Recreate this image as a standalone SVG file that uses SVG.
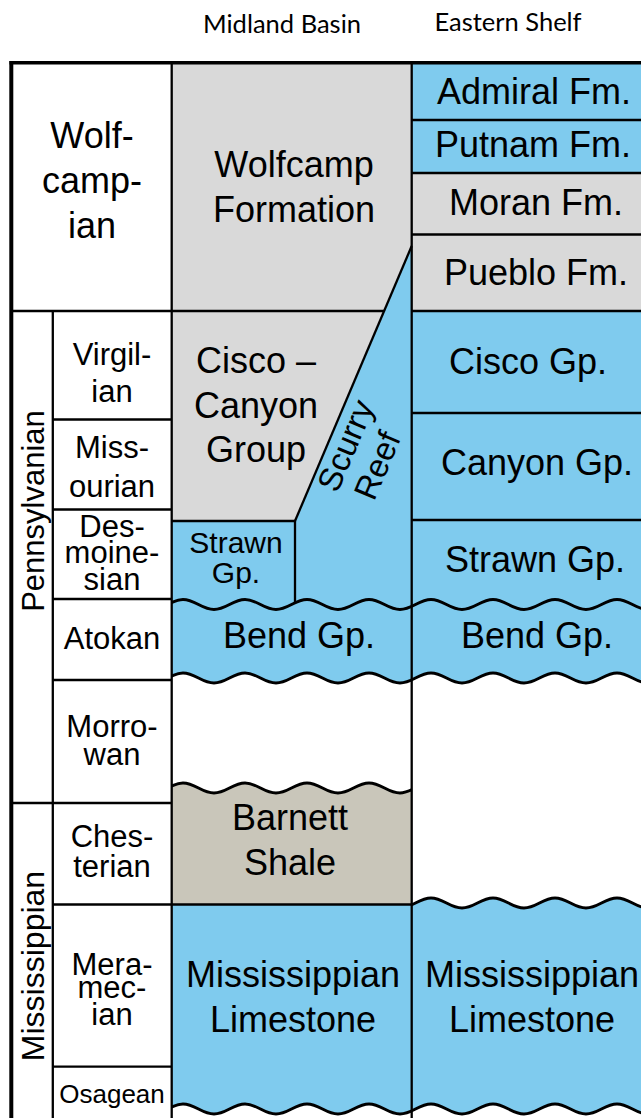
<svg xmlns="http://www.w3.org/2000/svg" xmlns:xlink="http://www.w3.org/1999/xlink" width="641" height="1118" viewBox="0 0 641 1118">
<defs>
<style>
.t{font-family:"Liberation Sans",Arial,sans-serif;font-size:36px;text-anchor:middle;fill:#000}
.s{font-size:31px}
.h{font-family:Lato,"Open Sans",sans-serif;font-size:25.5px;text-anchor:middle;fill:#000}
.blue{fill:#7fcbee}
.gray{fill:#d9d9d9}
.barn{fill:#c9c6ba}
.white{fill:#fff}
.ln{stroke:#000;stroke-width:2.3;fill:none}
.thk{stroke:#000;stroke-width:3.4;fill:none}
.wv{stroke:#000;stroke-width:3;fill:none}
</style>
<path id="wl" d="M121,-5 C133,-5 140,5 152,5 C164,5 171,-5 183,-5 C195,-5 202,5 214,5 C226,5 233,-5 245,-5 C257,-5 264,5 276,5 C288,5 295,-5 307,-5 C319,-5 326,5 338,5 C350,5 357,-5 369,-5 C381,-5 388,5 400,5 C412,5 419,-5 431,-5 C443,-5 450,5 462,5 C474,5 481,-5 493,-5 C505,-5 512,5 524,5 C536,5 543,-5 555,-5 C567,-5 574,5 586,5 C598,5 605,-5 617,-5 C629,-5 636,5 648,5 C660,5 667,-5 679,-5"/>
<path id="wf" d="M121,-5 C133,-5 140,5 152,5 C164,5 171,-5 183,-5 C195,-5 202,5 214,5 C226,5 233,-5 245,-5 C257,-5 264,5 276,5 C288,5 295,-5 307,-5 C319,-5 326,5 338,5 C350,5 357,-5 369,-5 C381,-5 388,5 400,5 C412,5 419,-5 431,-5 C443,-5 450,5 462,5 C474,5 481,-5 493,-5 C505,-5 512,5 524,5 C536,5 543,-5 555,-5 C567,-5 574,5 586,5 C598,5 605,-5 617,-5 C629,-5 636,5 648,5 C660,5 667,-5 679,-5 L679,400 L121,400 Z"/>
<clipPath id="cm"><rect x="172" y="0" width="239.7" height="904.5"/></clipPath>
<clipPath id="ce"><rect x="411.7" y="0" width="230" height="1118"/></clipPath>
<clipPath id="cme"><rect x="172" y="0" width="470" height="1118"/></clipPath>
</defs>
<rect width="641" height="1118" fill="#fff"/>

<g id="headers">
<text class="h" x="282" y="33">Midland Basin</text>
<text class="h" x="508" y="31">Eastern Shelf</text>
</g>

<g id="wolfcampian">
<text class="t" x="92" y="148">Wolf-</text>
<text class="t" x="92" y="193">camp-</text>
<text class="t" x="92" y="238">ian</text>
</g>
<g id="pennsylvanian">
<text class="t" style="font-size:31px" transform="translate(44,511) rotate(-90)" x="0" y="0">Pennsylvanian</text>
</g>
<g id="mississippian">
<text class="t" style="font-size:32px" transform="translate(44,966) rotate(-90)" x="0" y="0">Mississippian</text>
</g>
<g id="virgilian"><text class="t s" x="112" y="365">Virgil-</text><text class="t s" x="112" y="402">ian</text></g>
<g id="missourian"><text class="t s" x="112" y="458">Miss-</text><text class="t s" x="112" y="497">ourian</text></g>
<g id="desmoinesian"><text class="t s" x="112" y="537">Des-</text><text class="t s" x="112" y="563">moine-</text><text class="t s" x="112" y="590">sian</text></g>
<g id="atokan"><text class="t s" x="112" y="649">Atokan</text></g>
<g id="morrowan"><text class="t s" x="112" y="737">Morro-</text><text class="t s" x="112" y="765">wan</text></g>
<g id="chesterian"><text class="t s" x="112" y="847">Ches-</text><text class="t s" x="112" y="877">terian</text></g>
<g id="meramecian"><text class="t s" x="112" y="975">Mera-</text><text class="t s" x="112" y="998">mec-</text><text class="t s" x="112" y="1025">ian</text></g>
<g id="osagean"><text class="t" style="font-size:26px" x="112" y="1103">Osagean</text></g>

<g id="wolfcamp-formation">
<rect class="gray" x="172" y="63" width="239.7" height="458"/>
<text class="t" x="294" y="177">Wolfcamp</text>
<text class="t" x="294" y="222">Formation</text>
</g>
<g id="cisco-canyon-group">
<text class="t" x="256" y="373">Cisco –</text>
<text class="t" x="256" y="418">Canyon</text>
<text class="t" x="256" y="462">Group</text>
</g>
<g id="midland-lower">
<rect class="blue" x="172" y="521" width="239.7" height="597"/>
</g>
<g id="scurry-reef">
<polygon class="blue" points="295,521 411.7,246 411.7,606 295,606"/>
<g transform="translate(356,450) rotate(-67)">
<text class="t" style="font-size:33px" x="0" y="0">Scurry</text>
<text class="t" style="font-size:33px" x="-6" y="37">Reef</text>
</g>
</g>
<g id="strawn-midland">
<text class="t" style="font-size:30px" x="236" y="553">Strawn</text>
<text class="t" style="font-size:30px" x="236" y="583">Gp.</text>
</g>
<g id="bend-midland">
<text class="t" x="299" y="648">Bend Gp.</text>
</g>
<g id="midland-gap-barnett" clip-path="url(#cm)">
<use xlink:href="#wf" y="678" class="white"/>
<use xlink:href="#wf" y="788" class="barn"/>
</g>
<g id="barnett-shale">
<text class="t" x="290" y="830">Barnett</text>
<text class="t" x="290" y="875">Shale</text>
</g>
<g id="miss-limestone-midland">
<text class="t" x="293" y="987">Mississippian</text>
<text class="t" x="293" y="1032">Limestone</text>
</g>

<g id="eastern-base">
<rect class="blue" x="411.7" y="63" width="230" height="1055"/>
</g>
<g id="admiral"><text class="t" x="534" y="104">Admiral Fm.</text></g>
<g id="putnam"><text class="t" x="533" y="157">Putnam Fm.</text></g>
<g id="moran"><rect class="gray" x="411.7" y="173" width="230" height="61.5"/><text class="t" x="536" y="215">Moran Fm.</text></g>
<g id="pueblo"><rect class="gray" x="411.7" y="234.5" width="230" height="76.5"/><text class="t" x="536" y="285">Pueblo Fm.</text></g>
<g id="cisco-gp"><text class="t" x="528" y="374">Cisco Gp.</text></g>
<g id="canyon-gp"><text class="t" x="537" y="475">Canyon Gp.</text></g>
<g id="strawn-gp"><text class="t" x="535" y="572">Strawn Gp.</text></g>
<g id="bend-gp"><text class="t" x="537" y="648">Bend Gp.</text></g>
<g id="eastern-gap-limestone" clip-path="url(#ce)">
<use xlink:href="#wf" y="678" class="white"/>
<use xlink:href="#wf" y="903" class="blue"/>
</g>
<g id="miss-limestone-eastern">
<text class="t" x="532" y="987">Mississippian</text>
<text class="t" x="532" y="1032">Limestone</text>
</g>
<g id="bottom-gap" clip-path="url(#cme)">
<use xlink:href="#wf" y="1109" class="white"/>
</g>

<g id="connectors">
<g clip-path="url(#cme)">
<use xlink:href="#wl" y="604.5" class="wv"/>
<use xlink:href="#wl" y="678" class="wv"/>
<use xlink:href="#wl" y="1109" class="wv"/>
</g>
<g clip-path="url(#cm)"><use xlink:href="#wl" y="788" class="wv"/></g>
<g clip-path="url(#ce)"><use xlink:href="#wl" y="903" class="wv"/></g>
<line class="thk" x1="9.5" y1="62.7" x2="641" y2="62.7"/>
<line class="ln" x1="11" y1="311" x2="384" y2="311"/>
<line class="ln" x1="411.7" y1="311" x2="641" y2="311"/>
<line class="ln" x1="53" y1="419.5" x2="172" y2="419.5"/>
<line class="ln" x1="53" y1="509.5" x2="172" y2="509.5"/>
<line class="ln" x1="53" y1="599" x2="172" y2="599"/>
<line class="ln" x1="53" y1="680" x2="172" y2="680"/>
<line class="ln" x1="11" y1="803" x2="172" y2="803"/>
<line class="ln" x1="53" y1="904.5" x2="411.7" y2="904.5"/>
<line class="ln" x1="53" y1="1066.7" x2="172" y2="1066.7"/>
<line class="ln" x1="172" y1="521" x2="295" y2="521"/>
<line class="ln" x1="411.7" y1="120" x2="641" y2="120"/>
<line class="ln" x1="411.7" y1="173" x2="641" y2="173"/>
<line class="ln" x1="411.7" y1="234.5" x2="641" y2="234.5"/>
<line class="ln" x1="411.7" y1="413" x2="641" y2="413"/>
<line class="ln" x1="411.7" y1="520" x2="641" y2="520"/>
<line class="ln" x1="295" y1="521" x2="295" y2="604"/>
<line class="ln" x1="295" y1="521" x2="411.7" y2="246"/>
<line class="ln" x1="52.8" y1="311" x2="52.8" y2="1118"/>
<line class="ln" x1="171.7" y1="61" x2="171.7" y2="1118"/>
<line class="ln" x1="411.7" y1="61" x2="411.7" y2="1118"/>
<line class="thk" style="stroke-width:4" x1="11.3" y1="61" x2="11.3" y2="1118"/>
</g>
</svg>
